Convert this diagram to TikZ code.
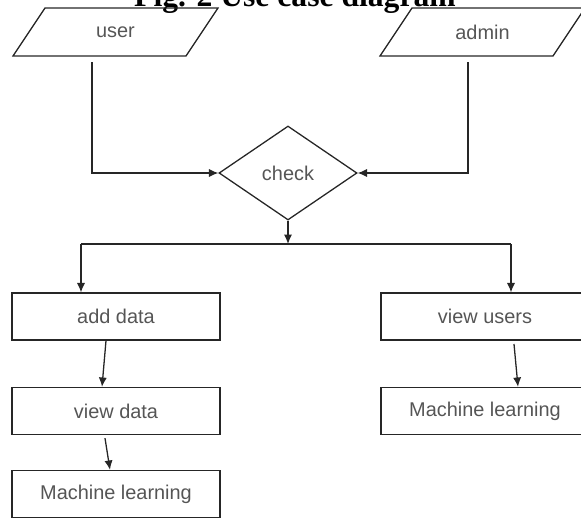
\documentclass[tikz,border=0pt]{standalone}
\usepackage{fontspec}
\setmainfont{Liberation Serif}
\newfontfamily\flowfont{Liberation Sans}
\usetikzlibrary{shapes.geometric,arrows.meta}
\definecolor{inkgray}{HTML}{555555}
\definecolor{linegray}{HTML}{262626}
\tikzset{
  flowtext/.style={text=inkgray,font=\flowfont\fontsize{17}{20}\selectfont},
  actor/.style={inner sep=0pt,flowtext},
  decision/.style={diamond,draw=linegray,line width=1.1pt,minimum width=4.14cm,
    minimum height=2.82cm,inner sep=0pt,flowtext},
  task/.style={rectangle,draw=linegray,line width=1.1pt,minimum width=6.24cm,
    minimum height=1.41cm,inner sep=0pt,flowtext},
  link/.style={draw=linegray,line width=1.1pt},
  flow/.style={link,-{Latex[length=8pt,width=7pt]}},
}
\begin{document}
\begin{tikzpicture}[x=0.03cm,y=-0.03cm]
  \useasboundingbox (0,0) rectangle (581,518);
  \clip (0,0) rectangle (581,518);
  \node[anchor=base,font=\bfseries\fontsize{27}{30}\selectfont] (caption) at (295,6) {Fig. 2 Use case diagram};
  \node[actor] (user) at (115.5,32) {user};
  \node[actor] (admin) at (482.5,32) {admin};
  \foreach \who in {user,admin}
    \draw[link] ([shift={(-102.5,24)}]\who.center) -- ++(173,0) -- ++(32,-48) -- ++(-173,0) -- cycle;
  \node[decision] (check) at (288,173) {check};
  \node[task] (add) at (116,316.5) {add data};
  \node[task] (view) at (116,411) {view data};
  \node[task] (mll) at (116,494) {Machine learning};
  \node[task] (users) at (485,316.5) {view users};
  \node[task] (mlr) at (485,411) {Machine learning};
  \coordinate (forkL) at (81,244);
  \coordinate (forkR) at (511,244);
  \draw[flow] ([shift={(-23.5,30)}]user.center) |- (check.west);
  \draw[flow] ([shift={(-14.5,30)}]admin.center) |- (check.east);
  \draw[flow] (check.south) -- (check.south |- forkL);
  \draw[link] (forkL) -- (forkR);
  \draw[flow] (forkL) -- (forkL |- add.north);
  \draw[flow] (forkR) -- (forkR |- users.north);
  \draw[flow] ([xshift=-0.3cm]add.south) -- ([xshift=-0.42cm]view.north);
  \draw[flow] ([xshift=-0.33cm,yshift=-0.09cm]view.south) -- ([xshift=-0.18cm]mll.north);
  \draw[flow] ([xshift=0.87cm,yshift=-0.1cm]users.south) -- ([xshift=0.99cm]mlr.north);
\end{tikzpicture}
\end{document}
